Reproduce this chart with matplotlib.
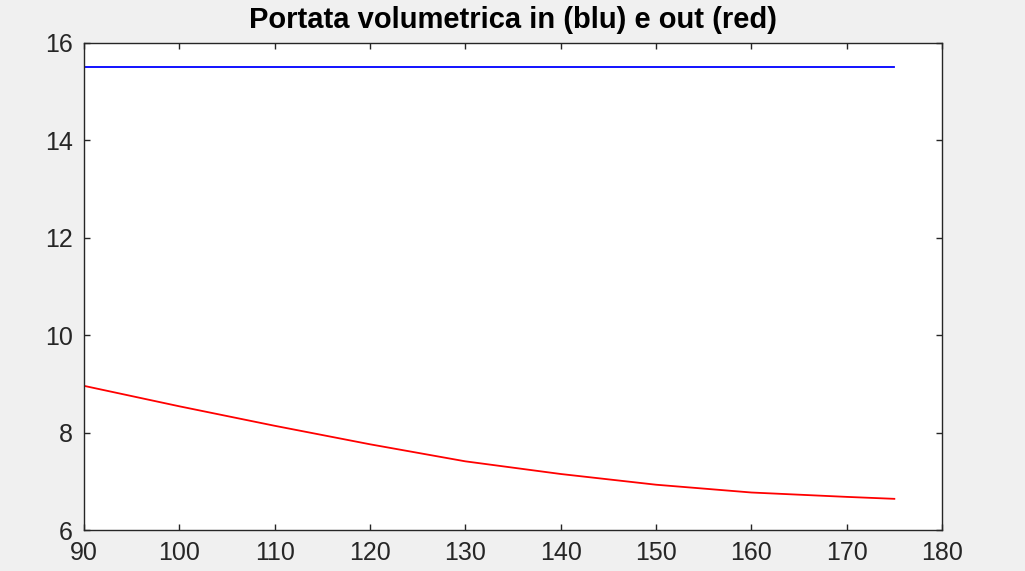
import matplotlib
matplotlib.use("Agg")
import matplotlib.pyplot as plt

# values
x_in = [90, 175]
q_in = [15.5, 15.5]

x_out = [90, 100, 110, 120, 130, 140, 150, 160, 170, 175]
q_out = [8.96, 8.54, 8.14, 7.76, 7.41, 7.15, 6.93, 6.77, 6.68, 6.64]

xticks = [90, 100, 110, 120, 130, 140, 150, 160, 170, 180]
yticks = [6, 8, 10, 12, 14, 16]

plt.rcParams['font.family'] = ['Liberation Sans', 'DejaVu Sans']

fig = plt.figure(figsize=(10.25, 5.71), dpi=100)
fig.patch.set_facecolor("#f0f0f0")
# axes box in pixels: left 84, right 942, top 43, bottom 530
ax = fig.add_axes([84 / 1025, 41 / 571, 858 / 1025, 487 / 571])

ax.plot(x_in, q_in, color="#0000ff", lw=1.3)
ax.plot(x_out, q_out, color="#ff0000", lw=1.3)

ax.set_xlim(90, 180)
ax.set_ylim(6, 16)
ax.set_xticks(xticks)
ax.set_yticks(yticks)

for s in ax.spines.values():
    s.set_color("#262626")
    s.set_linewidth(1.0)
ax.tick_params(direction="in", length=4.5, width=1.0, color="#262626",
               top=True, right=True, labelsize=18, labelcolor="#262626", pad=8)

ax.set_title("Portata volumetrica in (blu) e out (red)", fontsize=21,
             fontweight="bold", pad=11)

fig.savefig("out.png", dpi=100, facecolor=fig.get_facecolor())
